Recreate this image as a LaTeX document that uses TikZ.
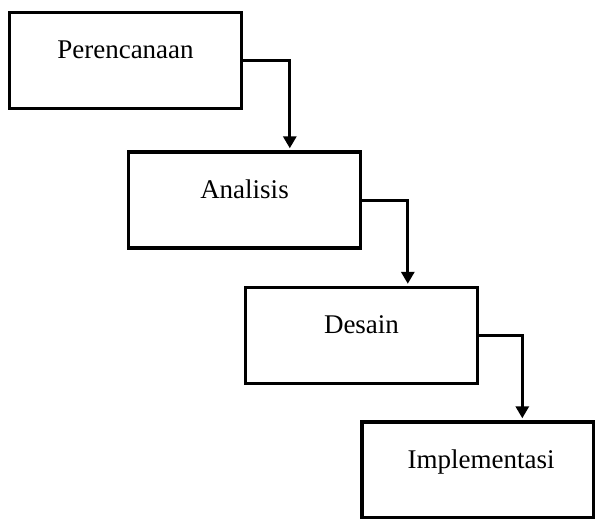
\documentclass[tikz,border=0pt]{standalone}
\usepackage{fontspec}
\setmainfont{Liberation Serif}
\usetikzlibrary{arrows.meta}
\begin{document}
\begin{tikzpicture}[x=1pt,y=-1pt,
  stage/.style={draw=black,line width=3.4pt,rectangle,minimum width=232pt,minimum height=96pt,inner sep=0pt,fill=white},
  lbl/.style={anchor=base,font=\fontsize{27}{32}\selectfont,inner sep=0pt},
  flow/.style={draw=black,line width=3pt,-{Triangle[width=13pt,length=12pt]}}]
\useasboundingbox (0,0) rectangle (595,519);
\clip (0,0) rectangle (595,519);
\fill[white] (0,0) rectangle (595,519);
\node[stage] (p) at (125.5,60.5) {};
\node[stage] (a) at (244.5,200) {};
\node[stage] (d) at (361.5,335.5) {};
\node[stage] (i) at (478,470) {};
\node[lbl] (tp) at ([yshift=2pt]p.center) {Perencanaan};
\node[lbl] (ta) at ([yshift=2pt]a.center) {Analisis};
\node[lbl] (td) at ([yshift=2pt]d.center) {Desain};
\node[lbl] (ti) at ([xshift=3pt,yshift=2pt]i.center) {Implementasi};
\draw[flow] (p.east) -| ([xshift=163pt,yshift=2pt]a.north west);
\draw[flow] (a.east) -| ([xshift=164pt,yshift=2pt]d.north west);
\draw[flow] (d.east) -| ([xshift=162pt,yshift=2pt]i.north west);
\end{tikzpicture}
\end{document}
